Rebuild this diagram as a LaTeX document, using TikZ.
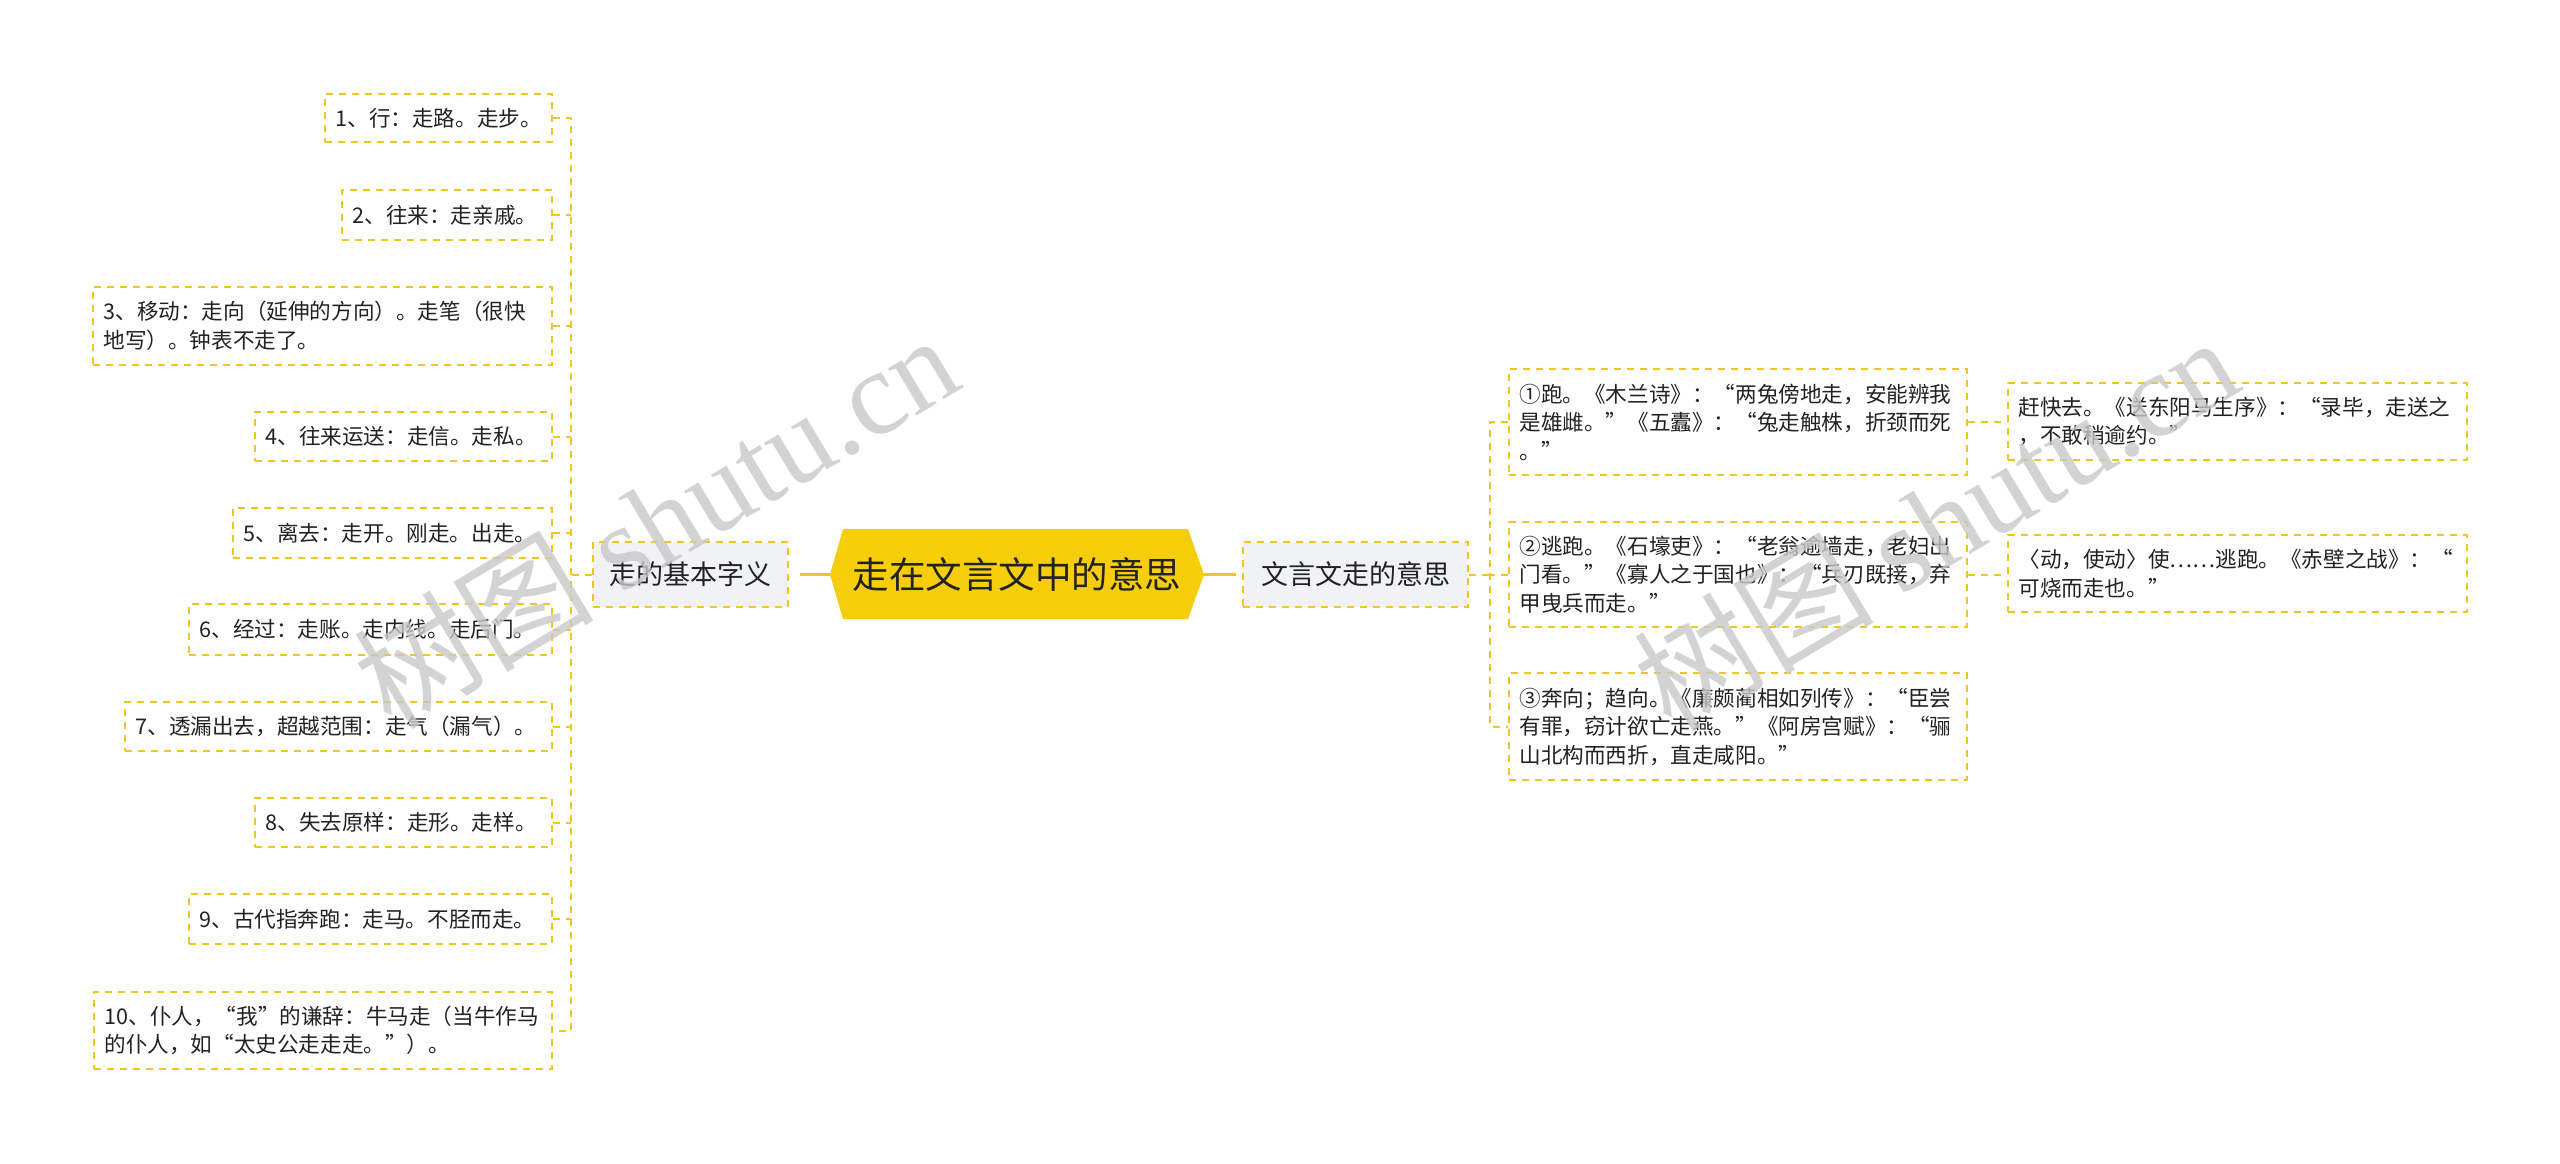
\documentclass[tikz,border=0pt]{standalone}
\usepackage{fontspec}
\setmainfont{Noto Sans CJK SC}
\newfontfamily\wmserif{Liberation Serif}
\definecolor{ylw}{RGB}{240,197,32}
\definecolor{hexfill}{RGB}{245,205,8}
\definecolor{lvfill}{RGB}{240,242,245}
\definecolor{txt}{RGB}{34,34,34}
\definecolor{wmgray}{RGB}{200,200,200}
\tikzset{
  conn/.style={draw=ylw, line width=2pt, dash pattern=on 7pt off 6pt},
  bigconn/.style={draw=ylw, line width=3pt},
  leafbox/.style={draw=ylw, line width=2pt, dash pattern=on 7pt off 6pt, fill=white,
    inner xsep=10.5pt, inner ysep=0pt, align=left, text=txt,
    font=\fontsize{21.6}{28.5}\selectfont},
  topicbox/.style={draw=ylw, line width=2pt, dash pattern=on 7pt off 6pt, fill=lvfill,
    inner sep=0pt, text=txt, font=\fontsize{27}{32}\selectfont},
  wmark/.style={rotate=31, text=wmgray, opacity=0.8, inner sep=0pt},
}
\begin{document}
\begin{tikzpicture}[x=1pt,y=-1pt]
\useasboundingbox (0,0) rectangle (2560,1163);
\fill[white] (0,0) rectangle (2560,1163);

% central topic
\fill[hexfill] (830,574.5) -- (843,529) -- (1188,529) -- (1204,574.5) -- (1188,619) -- (843,619) -- cycle;
\node[inner sep=0pt, minimum width=374, minimum height=90, text=txt,
      font=\fontsize{36.5}{40}\selectfont] (hex) at (1017,574.5) {走在文言文中的意思};

% level 1
\node[topicbox, minimum width=195, minimum height=65] (L) at (690.5,574.5) {走的基本字义};
\node[topicbox, minimum width=225, minimum height=65] (R) at (1355.5,574.5) {文言文走的意思};

% left leaves
\node[leafbox, text width=206, minimum height=48] (a1) at (438.5,118) {1、行：走路。走步。};
\node[leafbox, text width=189, minimum height=50] (a2) at (447,215) {2、往来：走亲戚。};
\node[leafbox, text width=438, minimum height=78] (a3) at (322.5,326) {3、移动：走向（延伸的方向）。走笔（很快\\地写）。钟表不走了。};
\node[leafbox, text width=276, minimum height=49] (a4) at (403.5,436.5) {4、往来运送：走信。走私。};
\node[leafbox, text width=298, minimum height=50] (a5) at (392.5,533) {5、离去：走开。刚走。出走。};
\node[leafbox, text width=342, minimum height=51] (a6) at (370.5,629.5) {6、经过：走账。走内线。走后门。};
\node[leafbox, text width=406, minimum height=49] (a7) at (338.5,726.5) {7、透漏出去，超越范围：走气（漏气）。};
\node[leafbox, text width=276, minimum height=49] (a8) at (403.5,822.5) {8、失去原样：走形。走样。};
\node[leafbox, text width=342, minimum height=50] (a9) at (370.5,919) {9、古代指奔跑：走马。不胫而走。};
\node[leafbox, text width=437, minimum height=77] (a10) at (323,1030.5) {10、仆人，“我”的谦辞：牛马走（当牛作马\\的仆人，如“太史公走走走。”）。};

% right leaves
\node[leafbox, text width=437, minimum height=106] (b1) at (1738,422) {①跑。《木兰诗》：“两兔傍地走，安能辨我\\是雄雌。”《五蠹》：“兔走触株，折颈而死\\。”};
\node[leafbox, text width=437, minimum height=105] (b2) at (1738,574.5) {②逃跑。《石壕吏》：“老翁逾墙走，老妇出\\门看。”《寡人之于国也》：“兵刃既接，弃\\甲曳兵而走。”};
\node[leafbox, text width=437, minimum height=107] (b3) at (1738,726.5) {③奔向；趋向。《廉颇蔺相如列传》：“臣尝\\有罪，窃计欲亡走燕。”《阿房宫赋》：“骊\\山北构而西折，直走咸阳。”};
\node[leafbox, text width=438, minimum height=77] (c1) at (2237.5,421.5) {赶快去。《送东阳马生序》：“录毕，走送之\\，不敢稍逾约。”};
\node[leafbox, text width=438, minimum height=77] (c2) at (2237.5,573.5) {〈动，使动〉使……逃跑。《赤壁之战》：“\\可烧而走也。”};

% main solid connectors
\draw[bigconn, shorten <=11pt] (L.east) -- (hex.west);
\draw[bigconn, shorten >=6pt] (hex.east) -- (R.west);

% left bracket
\coordinate (jl) at ([xshift=-21pt]L.west);
\draw[conn] (L.west) -- (jl);
\draw[conn] (a1.east) -- (a1.east -| jl) -- (a10.east -| jl) -- (a10.east);
\foreach \n in {a2,a3,a4,a5,a6,a7,a8,a9}{
  \draw[conn] (\n.east) -- (\n.east -| jl);
}

% right bracket
\coordinate (jr) at ([xshift=21pt]R.east);
\draw[conn] (R.east) -- (jr);
\draw[conn] (b1.west) -- (b1.west -| jr) -- (b3.west -| jr) -- (b3.west);
\draw[conn] (b2.west) -- (b2.west -| jr);
\draw[conn] (b1.east) -- (b1.east -| c1.west);
\draw[conn] (b2.east) -- (b2.east -| c2.west);

% watermarks
\node[wmark] (wm1) at (655,520) {\fontsize{120}{120}\selectfont 树图 {\wmserif shutu.cn}};
\node[wmark] (wm2) at (1935,522) {\fontsize{120}{120}\selectfont 树图 {\wmserif shutu.cn}};
\end{tikzpicture}
\end{document}
